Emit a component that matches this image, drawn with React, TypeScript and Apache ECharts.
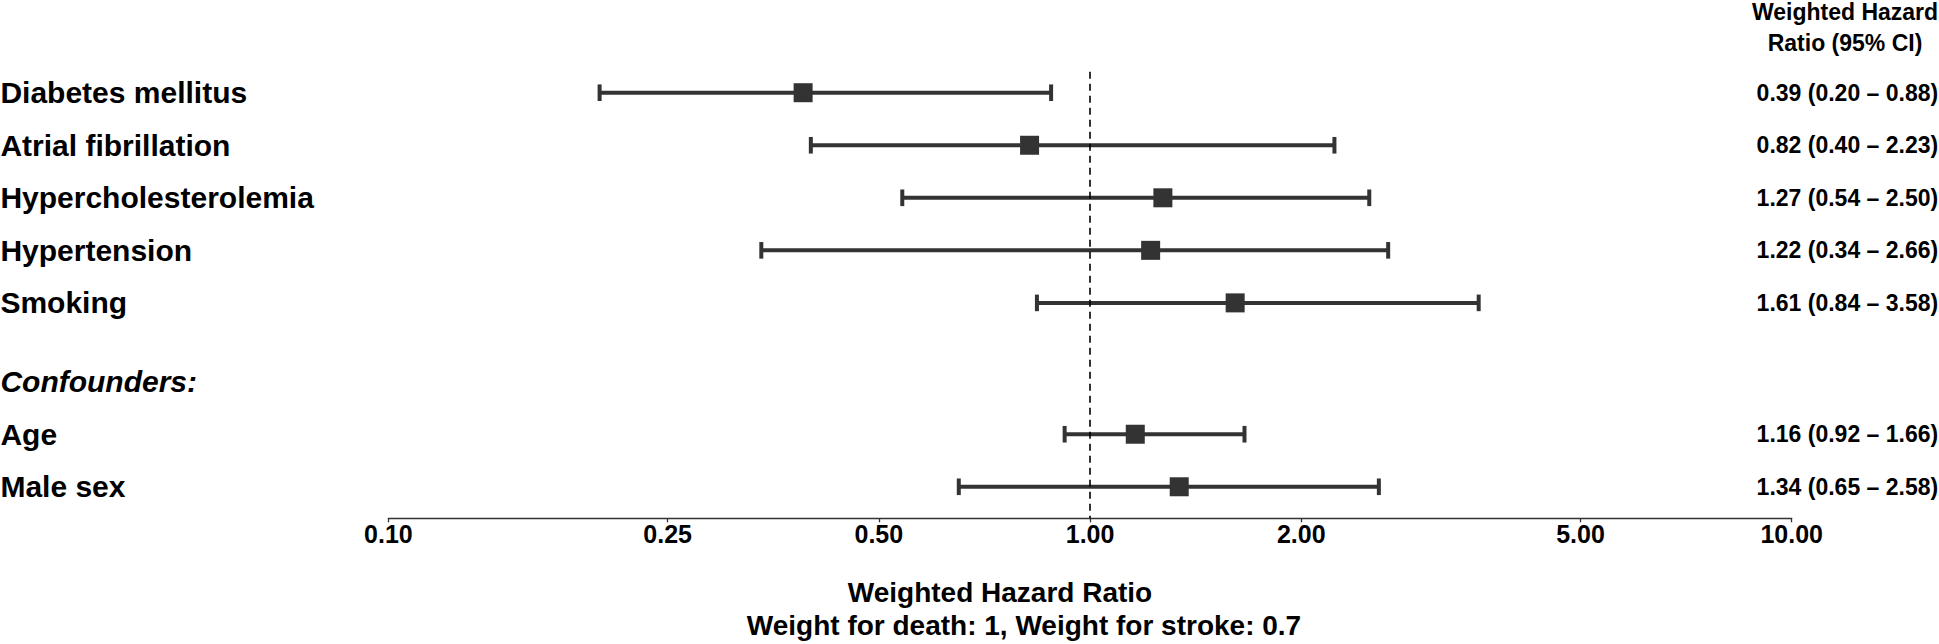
import React, { useEffect, useRef } from 'react';
import * as echarts from 'echarts';

// ---- data ----
const factorNames = ['Diabetes mellitus', 'Atrial fibrillation', 'Hypercholesterolemia', 'Hypertension', 'Smoking'];
const factorHR = [0.39, 0.82, 1.27, 1.22, 1.61];
const factorLow = [0.20, 0.40, 0.54, 0.34, 0.84];
const factorHigh = [0.88, 2.23, 2.50, 2.66, 3.58];

const confounderHeading = 'Confounders:';
const confounderNames = ['Age', 'Male sex'];
const confounderHR = [1.16, 1.34];
const confounderLow = [0.92, 0.65];
const confounderHigh = [1.66, 2.58];

const tickValues = [0.1, 0.25, 0.5, 1, 2, 5, 10];
const axisTitle = 'Weighted Hazard Ratio';
const axisSubtitle = 'Weight for death: 1, Weight for stroke: 0.7';
const columnHeader = ['Weighted Hazard', 'Ratio (95% CI)'];

// ---- build rows (row slot on the y axis) ----
type Row = { name: string; hr: number; lo: number; hi: number; pos: number };
const rows: Row[] = [];
factorNames.forEach((n, i) =>
  rows.push({ name: n, hr: factorHR[i], lo: factorLow[i], hi: factorHigh[i], pos: i + 1 })
);
const headingPos = factorNames.length + 1.5;
confounderNames.forEach((n, j) =>
  rows.push({ name: n, hr: confounderHR[j], lo: confounderLow[j], hi: confounderHigh[j], pos: headingPos + 1 + j })
);

const FONT = '"Liberation Sans", Arial, Helvetica, sans-serif';
const INK = '#333333';
const lg = (v: number) => Math.log10(v);
const near = (a: number, b: number) => Math.abs(a - b) < 1e-6;
const ciText = (r: Row) => `${r.hr.toFixed(2)} (${r.lo.toFixed(2)} \u2013 ${r.hi.toFixed(2)})`;

const leftLabel = (v: number) => {
  if (near(v, headingPos)) return `{it|${confounderHeading}}`;
  const r = rows.find((x) => near(x.pos, v));
  return r ? r.name : '';
};
const rightLabel = (v: number) => {
  const r = rows.find((x) => near(x.pos, v));
  return r ? ciText(r) : '';
};

const yCommon = {
  type: 'value',
  inverse: true,
  min: 0.6,
  max: 9.1,
  axisLine: { show: false },
  axisTick: { show: false },
  splitLine: { show: false },
};

const option: any = {
  animation: false,
  backgroundColor: '#ffffff',
  grid: { left: 388.4, right: 147.3, top: 71.7, bottom: 125.7, outerBoundsMode: 'none' },
  xAxis: {
    type: 'value',
    min: -1,
    max: 1,
    axisLine: { show: true, onZero: false, lineStyle: { color: INK, width: 1.3 } },
    axisTick: {
      show: true,
      customValues: tickValues.map(lg),
      length: 4,
      lineStyle: { color: INK, width: 1.3 },
    },
    axisLabel: {
      customValues: tickValues.map(lg),
      formatter: (v: number) => Math.pow(10, v).toFixed(2),
      margin: 3,
      color: '#000',
      fontFamily: FONT,
      fontWeight: 'bold',
      fontSize: 25,
    },
    splitLine: { show: false },
  },
  yAxis: [
    {
      ...yCommon,
      position: 'left',
      axisLabel: {
        customValues: [...rows.map((r) => r.pos), headingPos],
        formatter: leftLabel,
        align: 'left',
        margin: 388,
        color: '#000',
        fontFamily: FONT,
        fontWeight: 'bold',
        fontSize: 30,
        rich: {
          it: { fontStyle: 'italic', fontWeight: 'bold', fontSize: 30, fontFamily: FONT, color: '#000' },
        },
      },
    },
    {
      ...yCommon,
      position: 'right',
      axisLabel: {
        customValues: rows.map((r) => r.pos),
        formatter: rightLabel,
        align: 'right',
        margin: 146.5,
        color: '#000',
        fontFamily: FONT,
        fontWeight: 'bold',
        fontSize: 23,
      },
    },
  ],
  series: [
    {
      type: 'custom',
      z: 2,
      encode: { x: [0, 1], y: 2 },
      data: rows.map((r) => [lg(r.lo), lg(r.hi), r.pos]),
      renderItem: (params: any, api: any) => {
        const y = api.value(2);
        const a = api.coord([api.value(0), y]);
        const b = api.coord([api.value(1), y]);
        const cap = 8.3;
        const st = { stroke: INK, lineWidth: 4 };
        return {
          type: 'group',
          children: [
            { type: 'line', shape: { x1: a[0], y1: a[1], x2: b[0], y2: b[1] }, style: st },
            { type: 'line', shape: { x1: a[0], y1: a[1] - cap, x2: a[0], y2: a[1] + cap }, style: st },
            { type: 'line', shape: { x1: b[0], y1: b[1] - cap, x2: b[0], y2: b[1] + cap }, style: st },
          ],
        };
      },
    },
    {
      type: 'scatter',
      z: 3,
      symbol: 'rect',
      symbolSize: 19,
      itemStyle: { color: INK, opacity: 1 },
      data: rows.map((r) => [lg(r.hr), r.pos]),
      markLine: {
        silent: true,
        symbol: ['none', 'none'],
        label: { show: false },
        lineStyle: { color: '#000', type: [7, 5], width: 1.6 },
        data: [{ xAxis: lg(1) }],
      },
    },
  ],
  graphic: [
    {
      type: 'text',
      x: 1000,
      y: 592,
      style: { text: axisTitle, fontFamily: FONT, fontWeight: 'bold', fontSize: 28, fill: '#000', align: 'center', verticalAlign: 'middle' },
    },
    {
      type: 'text',
      x: 1024,
      y: 625.5,
      style: { text: axisSubtitle, fontFamily: FONT, fontWeight: 'bold', fontSize: 28, fill: '#000', align: 'center', verticalAlign: 'middle' },
    },
    {
      type: 'text',
      x: 1845,
      y: 12,
      style: { text: columnHeader[0], fontFamily: FONT, fontWeight: 'bold', fontSize: 23, fill: '#000', align: 'center', verticalAlign: 'middle' },
    },
    {
      type: 'text',
      x: 1845,
      y: 43,
      style: { text: columnHeader[1], fontFamily: FONT, fontWeight: 'bold', fontSize: 23, fill: '#000', align: 'center', verticalAlign: 'middle' },
    },
  ],
};

export default function App() {
  const ref = useRef<HTMLDivElement>(null);
  useEffect(() => {
    if (!ref.current) return;
    const chart = echarts.init(ref.current, null, { renderer: 'svg' });
    chart.setOption(option);
    return () => chart.dispose();
  }, []);
  return (
    <div
      ref={ref}
      style={{ position: 'fixed', left: 0, top: 0, width: 1939, height: 644, background: '#fff' }}
    />
  );
}
